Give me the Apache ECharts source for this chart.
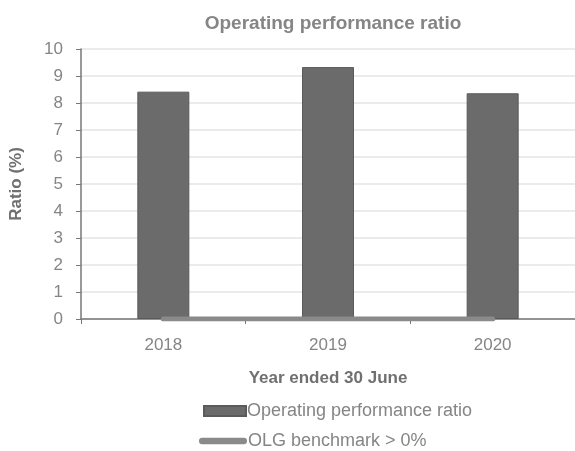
<!DOCTYPE html>
<html><head><meta charset="utf-8">
<script src="https://cdn.jsdelivr.net/npm/echarts@6/dist/echarts.min.js"></script>
<style>html,body{margin:0;padding:0;background:#fff}#c{width:575px;height:451px}</style>
</head><body><div id="c"></div>
<script>
const categories = ['2018', '2019', '2020'];
const ratioValues = [8.42, 9.33, 8.36];
const benchmarkValues = [0, 0, 0];
const yTicks = {min: 0, max: 10, interval: 1};

const chart = echarts.init(document.getElementById('c'));
const font = 'Liberation Sans, Arial, sans-serif';
chart.setOption({
  animation: false,
  title: {text: 'Operating performance ratio', left: 328, textAlign: 'center', top: 9,
    textStyle: {fontFamily: font, fontSize: 19, fontWeight: 'bold', color: '#858585'}},
  grid: {left: 81, right: 0, top: 49, bottom: 132},
  legend: [
    {data: [{name: 'Operating performance ratio', icon: 'rect'}], left: 198, top: 397, orient: 'vertical',
      itemWidth: 42, itemHeight: 10, itemGap: 2,
      textStyle: {fontFamily: font, fontSize: 18, color: '#858585', padding: [0,0,0,-4]}},
    {data: [{name: 'OLG benchmark > 0%', icon: 'path://M3,0 L41,0 A3,3 0 0 1 41,6 L3,6 A3,3 0 0 1 3,0 Z'}], left: 194, top: 427, orient: 'vertical',
      itemWidth: 48, itemHeight: 7,
      textStyle: {fontFamily: font, fontSize: 18, color: '#858585', padding: [0,0,0,-4]}}
  ],
  xAxis: {type: 'category', data: categories, boundaryGap: true,
    name: 'Year ended 30 June', nameLocation: 'middle', nameGap: 51,
    nameTextStyle: {fontFamily: font, fontSize: 17, fontWeight: 'bold', color: '#707070'},
    axisLine: {lineStyle: {color: '#777', width: 1.5}},
    axisTick: {show: true, length: 5, lineStyle: {color: '#777'}},
    axisLabel: {fontFamily: font, fontSize: 17, color: '#858585', margin: 18}},
  yAxis: {type: 'value', min: yTicks.min, max: yTicks.max, interval: yTicks.interval,
    name: 'Ratio (%)', nameLocation: 'middle', nameGap: 56,
    nameTextStyle: {fontFamily: font, fontSize: 17, fontWeight: 'bold', color: '#707070'},
    axisLine: {show: true, lineStyle: {color: '#777', width: 1.5}},
    axisTick: {show: true, length: 5, lineStyle: {color: '#777'}},
    splitLine: {lineStyle: {color: '#e4e4e4', width: 1.5}},
    axisLabel: {fontFamily: font, fontSize: 17, color: '#858585', margin: 18}},
  series: [
    {name: 'Operating performance ratio', type: 'bar', data: ratioValues, barWidth: 52,
      itemStyle: {color: '#6b6b6b', borderColor: '#5a5a5a', borderWidth: 1}},
    {name: 'OLG benchmark > 0%', type: 'line', data: benchmarkValues, symbol: 'none',
      lineStyle: {color: '#8a8a8a', width: 5, cap: 'round'}, itemStyle: {color: '#8a8a8a'}, z: 3}
  ]
});
</script></body></html>
